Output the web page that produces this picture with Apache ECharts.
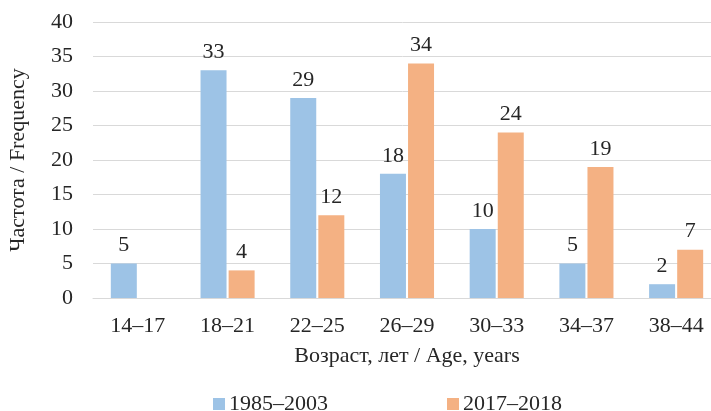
<!DOCTYPE html>
<html>
<head>
<meta charset="utf-8">
<script src="https://cdn.jsdelivr.net/npm/echarts@6/dist/echarts.min.js"></script>
<style>
  html, body { margin: 0; padding: 0; background: #fff; }
  #chart { width: 711px; height: 411px; }
</style>
</head>
<body>
<div id="chart"></div>
<script>
// Age groups and frequencies for the two survey periods
const ageGroups = ['14–17', '18–21', '22–25', '26–29', '30–33', '34–37', '38–44'];
const period1Name = '1985–2003';
const period2Name = '2017–2018';
const period1Values = [5, 33, 29, 18, 10, 5, 2];
const period2Values = [null, 4, 12, 34, 24, 19, 7];
const yTicks = [0, 5, 10, 15, 20, 25, 30, 35, 40];

const FONT = '"Liberation Serif", "Times New Roman", serif';
const TEXT = '#262626';
const FS = 22;

const chart = echarts.init(document.getElementById('chart'));

const labelStyle = {
  show: true,
  position: 'top',
  distance: 7,
  fontFamily: FONT,
  fontSize: FS,
  color: TEXT
};

chart.setOption({
  animation: false,
  textStyle: { fontFamily: FONT, color: TEXT },
  // the plot runs slightly past the right edge of the canvas
  grid: { left: 93, top: 22, width: 628, height: 276, outerBoundsMode: 'none', containLabel: false },
  legend: {
    left: 213,
    top: 393,
    padding: 0,
    itemWidth: 12,
    itemHeight: 12,
    itemGap: 119,
    icon: 'rect',
    textStyle: { fontFamily: FONT, fontSize: FS, color: TEXT, padding: [0, 0, 0, -1] },
    data: [period1Name, period2Name]
  },
  xAxis: {
    type: 'category',
    data: ageGroups,
    name: 'Возраст, лет / Age, years',
    nameLocation: 'middle',
    nameGap: 47,
    nameTextStyle: { fontFamily: FONT, fontSize: FS, color: TEXT },
    axisLine: { lineStyle: { color: '#d9d9d9', width: 1 } },
    axisTick: { show: false },
    axisLabel: { fontFamily: FONT, fontSize: FS, color: TEXT, margin: 17 }
  },
  yAxis: {
    type: 'value',
    min: yTicks[0],
    max: yTicks[yTicks.length - 1],
    interval: 5,
    name: 'Частота / Frequency',
    nameLocation: 'middle',
    nameGap: 64,
    nameRotate: 90,
    nameTextStyle: { fontFamily: FONT, fontSize: FS, color: TEXT },
    axisLine: { show: false },
    axisTick: { show: false },
    axisLabel: { fontFamily: FONT, fontSize: FS, color: TEXT, margin: 20 },
    splitLine: { lineStyle: { color: '#d9d9d9', width: 1 } }
  },
  series: [
    {
      name: period1Name,
      type: 'bar',
      data: period1Values,
      barWidth: 26,
      barGap: '8%',
      itemStyle: { color: '#9dc3e6' },
      label: labelStyle
    },
    {
      name: period2Name,
      type: 'bar',
      data: period2Values,
      barWidth: 26,
      barGap: '8%',
      itemStyle: { color: '#f4b183' },
      label: labelStyle
    }
  ]
});
</script>
</body>
</html>
